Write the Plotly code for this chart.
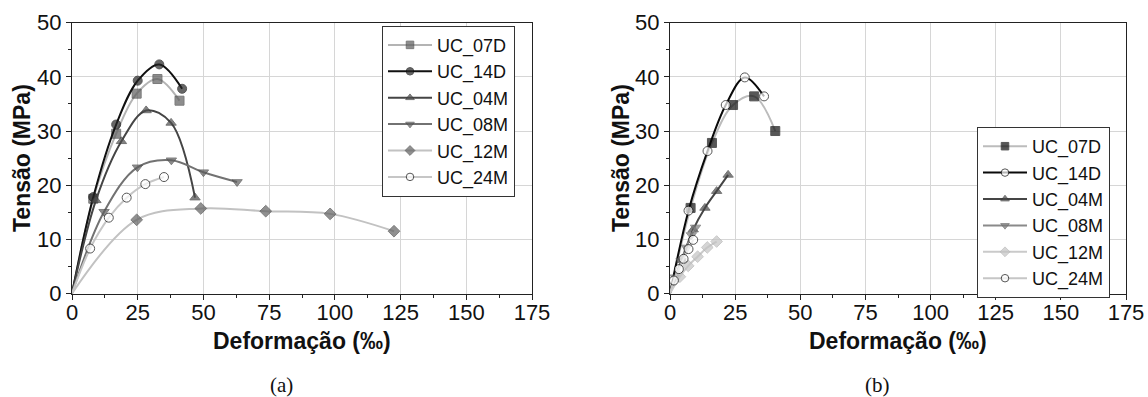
import plotly.graph_objects as go

# ---------------- data (panel a) ----------------
series_names = ["UC_07D", "UC_14D", "UC_04M", "UC_08M", "UC_12M", "UC_24M"]

a_07D_x = [0, 8.1, 16.8, 24.6, 32.5, 40.9]
a_07D_y = [0, 17.5, 29.5, 36.9, 39.6, 35.6]
a_14D_x = [0, 8.1, 16.8, 25.0, 33.2, 41.9]
a_14D_y = [0, 17.8, 31.2, 39.3, 42.3, 37.8]
a_04M_x = [0, 9.1, 18.8, 28.2, 37.7, 46.8]
a_04M_y = [0, 17.2, 28.1, 33.8, 31.5, 17.7]
a_08M_x = [0, 12.2, 24.9, 37.8, 50.0, 62.8]
a_08M_y = [0, 15.1, 23.3, 24.6, 22.4, 20.6]
a_12M_x = [0, 24.6, 49.0, 73.7, 98.2, 122.5]
a_12M_y = [0, 13.6, 15.7, 15.2, 14.7, 11.5]
a_24M_x = [0, 6.9, 14.0, 20.8, 27.9, 35.0]
a_24M_y = [0, 8.3, 14.0, 17.7, 20.2, 21.5]

# ---------------- data (panel b) ----------------
b_07D_x = [0, 7.9, 16.1, 24.2, 32.3, 40.4]
b_07D_y = [0, 15.8, 27.8, 34.8, 36.4, 30.0]
b_14D_x = [0, 7.1, 14.4, 21.4, 28.7, 36.1]
b_14D_y = [0, 15.3, 26.3, 34.8, 39.9, 36.4]
b_04M_x = [0, 4.5, 8.9, 13.4, 17.9, 22.3]
b_04M_y = [0, 6.2, 11.8, 15.8, 18.9, 21.9]
b_08M_x = [0, 2.0, 4.2, 6.3, 8.2, 9.8]
b_08M_y = [0, 3.0, 6.0, 8.5, 10.8, 12.2]
b_12M_x = [0, 3.8, 7.0, 10.6, 14.3, 17.9]
b_12M_y = [0, 3.1, 5.1, 6.8, 8.5, 9.6]
b_24M_x = [0, 1.5, 3.4, 5.2, 7.1, 8.9]
b_24M_y = [0, 2.4, 4.5, 6.4, 8.2, 9.9]

x_ticks = [0, 25, 50, 75, 100, 125, 150, 175]
y_ticks = [0, 10, 20, 30, 40, 50]

FONT = "Arial, Liberation Sans, sans-serif"

styles_a = [
    dict(line="#b4b4b4", sym="square", fill="#5e5e5e", edge="#444444"),
    dict(line="#111111", sym="circle", fill="#262626", edge="#111111"),
    dict(line="#454545", sym="triangle-up", fill="#4e4e4e", edge="#3a3a3a"),
    dict(line="#727272", sym="triangle-down", fill="#5e5e5e", edge="#4a4a4a"),
    dict(line="#c2c2c2", sym="diamond", fill="#626262", edge="#4a4a4a"),
    dict(line="#c6c6c6", sym="circle", fill="#ffffff", edge="#111111"),
]
styles_b = [
    dict(line="#bcbcbc", sym="square", fill="#111111", edge="#111111"),
    dict(line="#0a0a0a", sym="circle", fill="#ffffff", edge="#111111"),
    dict(line="#454545", sym="triangle-up", fill="#484848", edge="#383838"),
    dict(line="#8a8a8a", sym="triangle-down", fill="#7a7a7a", edge="#666666"),
    dict(line="#cacaca", sym="diamond", fill="#c4c4c4", edge="#b4b4b4"),
    dict(line="#c6c6c6", sym="circle", fill="#ffffff", edge="#111111"),
]

data_a = [(a_07D_x, a_07D_y), (a_14D_x, a_14D_y), (a_04M_x, a_04M_y),
          (a_08M_x, a_08M_y), (a_12M_x, a_12M_y), (a_24M_x, a_24M_y)]
data_b = [(b_07D_x, b_07D_y), (b_14D_x, b_14D_y), (b_04M_x, b_04M_y),
          (b_08M_x, b_08M_y), (b_12M_x, b_12M_y), (b_24M_x, b_24M_y)]

fig = go.Figure()


def add_panel(data, styles, xa, ya, legend):
    for name, (xs, ys), st in zip(series_names, data, styles):
        sizes = [0] + [9] * (len(xs) - 1)
        fig.add_trace(go.Scatter(
            x=xs, y=ys, name=name, xaxis=xa, yaxis=ya, legend=legend,
            mode="lines+markers",
            line=dict(color=st["line"], width=2, shape="spline", smoothing=1.0),
            marker=dict(symbol=st["sym"], size=sizes, color=st["fill"],
                        line=dict(color=st["edge"], width=1)),
            cliponaxis=True,
        ))


add_panel(data_a, styles_a, "x", "y", "legend")
add_panel(data_b, styles_b, "x2", "y2", "legend2")

axis_common = dict(
    showline=True, linecolor="#222222", linewidth=1, mirror=True,
    showgrid=True, gridcolor="#d6d6d6", gridwidth=1, zeroline=False,
    ticks="outside", ticklen=5, tickcolor="#222222", automargin=False,
    tickfont=dict(family=FONT, size=22, color="#111111"),
)
xaxis_cfg = dict(axis_common, range=[0, 175], tickvals=x_ticks,
                 ticklabelstandoff=-6,
                 minor=dict(ticks="outside", ticklen=3, dtick=12.5,
                            tickcolor="#222222", showgrid=False))
yaxis_cfg = dict(axis_common, range=[0, 50], tickvals=y_ticks,
                 minor=dict(ticks="outside", ticklen=3, dtick=5,
                            tickcolor="#222222", showgrid=False))

W, H = 1148, 397
yd = [1 - 293.5 / H, 1 - 22.7 / H]

legend_common = dict(
    font=dict(family=FONT, size=18, color="#111111"),
    bgcolor="#ffffff", bordercolor="#333333", borderwidth=1,
    xanchor="left", yanchor="top", itemwidth=44,
    tracegroupgap=0,
)

fig.update_layout(
    template="none",
    width=W, height=H,
    margin=dict(l=0, r=0, t=0, b=0, pad=0, autoexpand=False),
    paper_bgcolor="#ffffff", plot_bgcolor="#ffffff",
    xaxis=dict(xaxis_cfg, domain=[72 / W, 532 / W], anchor="y"),
    yaxis=dict(yaxis_cfg, domain=yd, anchor="x"),
    xaxis2=dict(xaxis_cfg, domain=[670 / W, 1126 / W], anchor="y2"),
    yaxis2=dict(yaxis_cfg, domain=yd, anchor="x2"),
    legend=dict(legend_common, x=382 / W, y=1 - 25.7 / H),
    legend2=dict(legend_common, x=977 / W, y=1 - 127 / H),
    showlegend=True,
)

title_font = dict(family=FONT, size=23, color="#111111")
ann = []
for cx, lab in [(302, "Deformação (‰)"), (898, "Deformação (‰)")]:
    ann.append(dict(x=cx / W, y=1 - 341 / H, xref="paper", yref="paper",
                    text="<b>%s</b>" % lab, showarrow=False,
                    xanchor="center", yanchor="middle", font=title_font))
for cx in [22, 621]:
    ann.append(dict(x=cx / W, y=1 - 158 / H, xref="paper", yref="paper",
                    text="<b>Tensão (MPa)</b>", showarrow=False, textangle=-90,
                    xanchor="center", yanchor="middle", font=title_font))
for cx, lab in [(281, "(a)"), (877, "(b)")]:
    ann.append(dict(x=cx / W, y=1 - 385 / H, xref="paper", yref="paper",
                    text=lab, showarrow=False, xanchor="center", yanchor="middle",
                    font=dict(family="Liberation Serif, Times New Roman, serif",
                              size=21, color="#111111")))
fig.update_layout(annotations=ann)

fig.write_html("out.html")
